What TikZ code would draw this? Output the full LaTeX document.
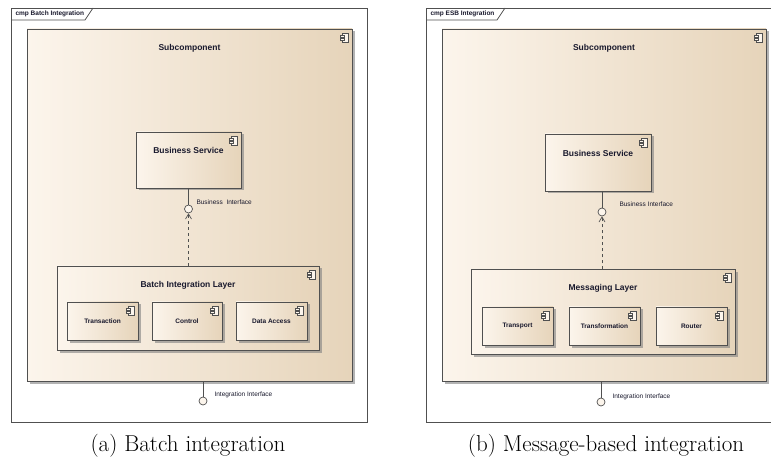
\documentclass[tikz,border=0pt]{standalone}
\usepackage{fontspec}
\setsansfont{Liberation Sans}
\usetikzlibrary{positioning,shadows,arrows.meta}
\definecolor{compLight}{RGB}{252,245,236}
\definecolor{compDark}{RGB}{230,212,186}
\definecolor{frameGray}{RGB}{80,80,80}
\definecolor{textNavy}{RGB}{25,25,45}
\tikzset{
  compicon/.pic={
    \draw[frameGray, line width=0.5pt, fill=compLight] (-6,0) rectangle (0,9);
    \draw[frameGray, line width=0.5pt, fill=compLight] (-8,2) rectangle (-4,4);
    \draw[frameGray, line width=0.5pt, fill=compLight] (-8,5) rectangle (-4,7);
  }
}
\begin{document}
\begin{tikzpicture}[x=1pt,y=-1pt,
  frame/.style={frameGray, line width=0.8pt},
  comp/.style={draw=frameGray, line width=0.7pt, left color=compLight, right color=compDark,
    inner sep=0pt, outer sep=0pt,
    drop shadow={shadow xshift=2.5pt, shadow yshift=-2.5pt, fill=gray, opacity=0.6}},
  boxtitle/.style={font=\sffamily\bfseries\fontsize{8.5}{10}\selectfont, text=textNavy},
  parttitle/.style={font=\sffamily\bfseries\fontsize{6.5}{8}\selectfont, text=textNavy},
  iflabel/.style={font=\sffamily\fontsize{6.5}{8}\selectfont, text=textNavy, anchor=west},
  tabtext/.style={font=\sffamily\bfseries\fontsize{6.5}{8}\selectfont, text=textNavy, anchor=west},
  socket/.style={circle, draw=frameGray, line width=0.7pt, fill=compLight, minimum size=8pt, inner sep=0pt},
  link/.style={frameGray, line width=0.7pt},
  uses/.style={frameGray, line width=0.7pt, dashed, -{Straight Barb[length=5pt,width=6pt]}},
  caption/.style={font=\fontsize{23}{27}\selectfont}]
\useasboundingbox (0,0) rectangle (771,462);

% (a) batch
\draw[frame] (11,8) rectangle (367,422);
\draw[frame] (11,20) -- (85,20) -- (93,8);
\node[tabtext] (tabA) at (12,14) {cmp Batch Integration};

\node[comp, minimum width=325pt, minimum height=352pt] (subA) at (189.5,205) {};
\pic at ([xshift=-4pt,yshift=-4pt]subA.north east) {compicon};
\node[boxtitle] (subAt) at (189.5,48) {Subcomponent};

\node[comp, minimum width=105pt, minimum height=56pt] (bsA) at (188.5,160) {};
\pic at ([xshift=-4pt,yshift=-4pt]bsA.north east) {compicon};
\node[boxtitle] (bsAt) at (188.5,150) {Business Service};

\node[socket] (biA) at (188.5,209) {};
\node[iflabel] (biAt) at (193,202) {Business\ \ Interface};

\node[comp, minimum width=262pt, minimum height=84pt] (layA) at (188,308) {};
\pic at ([xshift=-4pt,yshift=-4pt]layA.north east) {compicon};
\node[boxtitle] (layAt) at (188,285) {Batch Integration Layer};

\node[comp, parttitle, minimum width=71pt, minimum height=38pt] (trA) at (102.5,321) {Transaction};
\node[comp, parttitle, minimum width=70pt, minimum height=38pt] (ctA) at (187,321) {Control};
\node[comp, parttitle, minimum width=71pt, minimum height=38pt] (daA) at (271.5,321) {Data Access};
\foreach \n in {trA,ctA,daA}
  \pic at ([xshift=-4pt,yshift=-4pt]\n.north east) {compicon};

\node[socket] (iiA) at (203,401) {};
\node[iflabel] (iiAt) at (211,395) {Integration Interface};

\draw[link] (bsA) -- (biA);
\draw[uses] (layA.north -| biA) -- (biA);
\draw[link] (subA.south -| iiA) -- (iiA);

\node[caption] (capA) at (188,446) {(a) Batch integration};

% (b) ESB
\draw[frame] (426,8) rectangle (773,422);
\draw[frame] (426,20) -- (497,20) -- (505,8);
\node[tabtext] (tabB) at (427,14) {cmp ESB Integration};

\node[comp, minimum width=324pt, minimum height=352pt] (subB) at (604,205) {};
\pic at ([xshift=-4pt,yshift=-4pt]subB.north east) {compicon};
\node[boxtitle] (subBt) at (604,48) {Subcomponent};

\node[comp, minimum width=106pt, minimum height=57pt] (bsB) at (598,162.5) {};
\pic at ([xshift=-4pt,yshift=-4pt]bsB.north east) {compicon};
\node[boxtitle] (bsBt) at (598,153) {Business Service};

\node[socket] (biB) at (602,212) {};
\node[iflabel] (biBt) at (616,204) {Business Interface};

\node[comp, minimum width=264pt, minimum height=85pt] (layB) at (603,312) {};
\pic at ([xshift=-4pt,yshift=-4pt]layB.north east) {compicon};
\node[boxtitle] (layBt) at (603,288) {Messaging Layer};

\node[comp, parttitle, minimum width=71pt, minimum height=38pt] (tpB) at (517.5,326) {Transport};
\node[comp, parttitle, minimum width=71pt, minimum height=38pt] (tfB) at (604.5,326) {Transformation};
\node[comp, parttitle, minimum width=71pt, minimum height=38pt] (rtB) at (691.5,326) {Router};
\foreach \n in {tpB,tfB,rtB}
  \pic at ([xshift=-4pt,yshift=-4pt]\n.north east) {compicon};

\node[socket] (iiB) at (601,402) {};
\node[iflabel] (iiBt) at (609,397) {Integration Interface};

\draw[link] (bsB.south -| biB) -- (biB);
\draw[uses] (layB.north -| biB) -- (biB);
\draw[link] (subB.south -| iiB) -- (iiB);

\node[caption] (capB) at (606,446) {(b) Message-based integration};
\end{tikzpicture}
\end{document}
